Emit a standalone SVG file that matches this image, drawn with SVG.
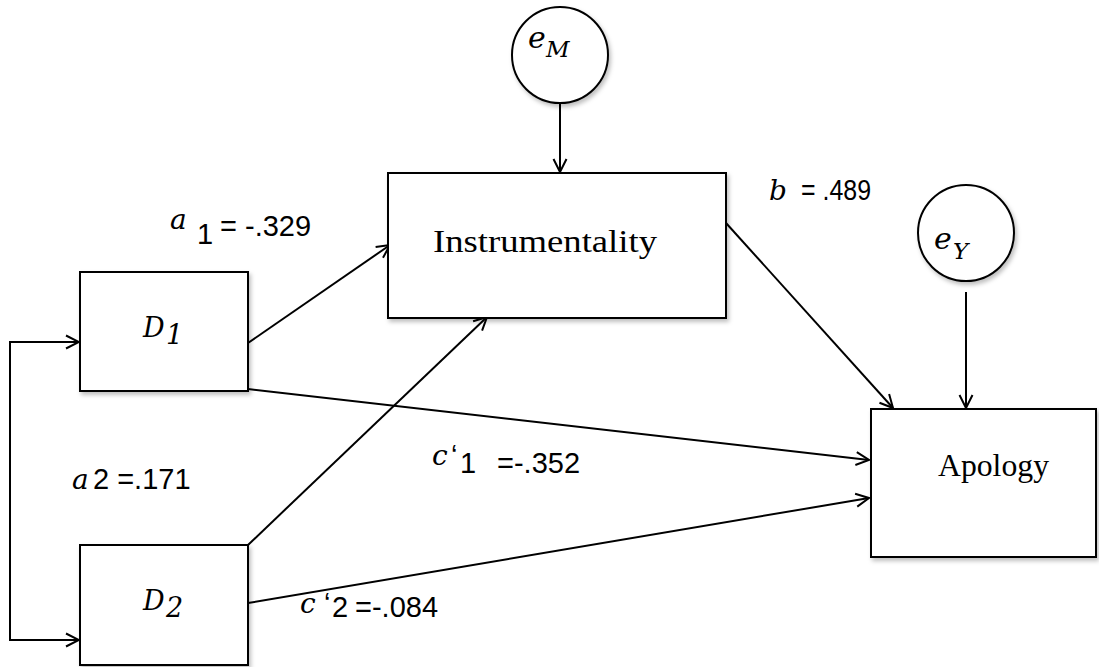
<svg xmlns="http://www.w3.org/2000/svg" width="1099" height="667" viewBox="0 0 1099 667">
<style>
.box{fill:#fff;stroke:#000;stroke-width:2;filter:url(#sh)}
.ln{fill:none;stroke:#000;stroke-width:2}
.arr{marker-end:url(#ah)}
.lab{font-family:"Liberation Serif",serif;font-size:32px;fill:#000}
.it{font-family:"DejaVu Serif",serif;font-style:italic;fill:#000}
.num{font-family:"Liberation Sans",sans-serif;font-size:29px;fill:#000}
</style>
<defs>
<filter id="sh" x="-10%" y="-10%" width="130%" height="130%">
<feDropShadow dx="2" dy="3" stdDeviation="2" flood-color="#000" flood-opacity="0.25"/>
</filter>
<marker id="ah" viewBox="0 0 16 16" markerWidth="16" markerHeight="16" refX="15" refY="8" orient="auto" markerUnits="userSpaceOnUse">
<path d="M2,1.5 L15,8 L2,14.5" fill="none" stroke="#000" stroke-width="2"/>
</marker>
</defs>
<g id="connectors">
<path class="ln arr" d="M560,103 V172"/>
<path class="ln arr" d="M966,292 V408"/>
<path class="ln arr" d="M726,223 L893,408"/>
<path class="ln arr" d="M248,343 L390,245"/>
<path class="ln arr" d="M248,545 L487,317"/>
<path class="ln arr" d="M248,389 L869,460"/>
<path class="ln arr" d="M248,603 L869,498"/>
<path class="ln arr" d="M10,491 V342 H79"/>
<path class="ln arr" d="M10,491 V640 H79"/>
</g>
<g id="eM">
<circle cx="560" cy="55" r="48" class="box"/>
<text class="it" x="528" y="48" font-size="30">e</text>
<text class="it" x="546" y="57" font-size="23">M</text>
</g>
<g id="eY">
<circle cx="966" cy="233" r="48" class="box"/>
<text class="it" x="934" y="249" font-size="30">e</text>
<text class="it" x="953" y="259" font-size="23">Y</text>
</g>
<g id="instrumentality">
<rect x="388" y="173" width="338" height="145" class="box"/>
<text class="lab" x="433" y="252" textLength="224" lengthAdjust="spacingAndGlyphs">Instrumentality</text>
</g>
<g id="apology">
<rect x="871" y="409" width="225" height="148" class="box"/>
<text class="lab" x="938" y="476" textLength="111" lengthAdjust="spacingAndGlyphs">Apology</text>
</g>
<g id="D1">
<rect x="80" y="272" width="168" height="119" class="box"/>
<text class="it" x="143" y="337" font-size="27">D</text>
<text class="it" x="166" y="344" font-size="27">1</text>
</g>
<g id="D2">
<rect x="80" y="545" width="168" height="120" class="box"/>
<text class="it" x="143" y="610" font-size="27">D</text>
<text class="it" x="166" y="617" font-size="27">2</text>
</g>
<g id="labels">
<text class="it" x="170" y="229" font-size="28">a</text>
<text class="num" x="197" y="244">1</text>
<text class="num" x="220" y="236">= -.329</text>
<text class="it" x="72" y="489" font-size="28">a</text>
<text class="num" x="93" y="489">2 =.171</text>
<text class="it" x="769" y="200" font-size="28">b</text>
<text class="num" x="801" y="200" textLength="70" lengthAdjust="spacingAndGlyphs">= .489</text>
<text class="it" x="432" y="465" font-size="28">c</text>
<text class="num" x="451" y="465">‘</text>
<text class="num" x="460" y="473">1</text>
<text class="num" x="497" y="473">=-.352</text>
<text class="it" x="300" y="613" font-size="28">c</text>
<text class="num" x="324" y="613">‘</text>
<text class="num" x="332" y="617">2</text>
<text class="num" x="355" y="617">=-.084</text>
</g>
</svg>
